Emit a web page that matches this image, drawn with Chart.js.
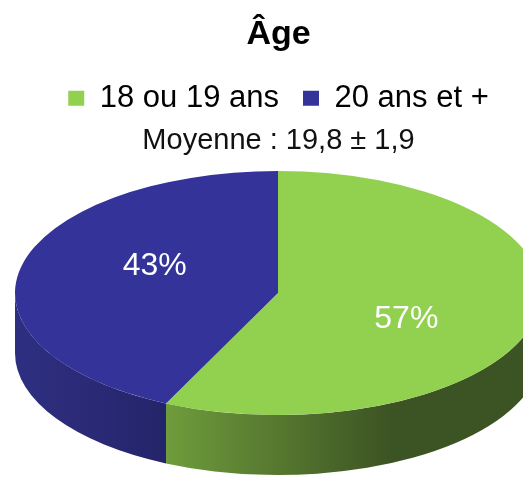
<!DOCTYPE html>
<html lang="fr">
<head>
<meta charset="utf-8">
<title>Âge</title>
<script src="https://cdn.jsdelivr.net/npm/chart.js@4.4.1/dist/chart.umd.min.js"></script>
<style>
  html, body { margin: 0; padding: 0; background: #fff; }
  #wrap { width: 523px; height: 477px; position: relative; }
</style>
</head>
<body>
<div id="wrap"><canvas id="ageChart"></canvas></div>
<script>
// ==== DONNEES ====
const categories = ["18 ou 19 ans", "20 ans et +"];
const percentages = [57, 43];
const titleText = "Âge";
const subtitleText = "Moyenne : 19,8 ± 1,9";

// couleurs (dessus / côté)
const topColors = ["#92d050", "#333399"];
const sideColors = [["#6f9c3c", "#3c5323"], ["#2f2f82", "#24246a"]];

// géométrie du disque "3D"
const CX = 278, CY = 293, RX = 263, RY = 122, DEPTH = 60;
const FONT = "'Liberation Sans', Arial, sans-serif";

// dessine les parois + aplatit le camembert
const pie3d = {
  id: "pie3d",
  beforeDatasetsDraw(chart) {
    const ctx = chart.ctx;
    const arcs = chart.getDatasetMeta(0).data;
    if (!arcs.length) return;

    arcs.forEach((arc, i) => {
      const a0 = Math.max(arc.startAngle, 0);
      const a1 = Math.min(arc.endAngle, Math.PI);
      if (a1 <= a0) return;
      const x0 = CX + RX * Math.cos(a1);
      const x1 = CX + RX * Math.cos(a0);
      const grad = ctx.createLinearGradient(x0, 0, Math.max(x1, x0 + 1), 0);
      grad.addColorStop(0, sideColors[i][0]);
      grad.addColorStop(i === 0 ? 0.6 : 1, sideColors[i][1]);
      grad.addColorStop(1, sideColors[i][1]);
      ctx.save();
      ctx.beginPath();
      ctx.ellipse(CX, CY, RX, RY, 0, a0, a1);
      ctx.ellipse(CX, CY + DEPTH, RX, RY, 0, a1, a0, true);
      ctx.closePath();
      ctx.fillStyle = grad;
      ctx.fill();
      ctx.restore();
    });

    const r = arcs[0].outerRadius;
    ctx.save();
    ctx.translate(CX, CY);
    ctx.scale(RX / r, RY / r);
    ctx.translate(-arcs[0].x, -arcs[0].y);
  },
  afterDatasetsDraw(chart) {
    const ctx = chart.ctx;
    const arcs = chart.getDatasetMeta(0).data;
    if (!arcs.length) return;
    ctx.restore();

    // étiquettes de pourcentage
    ctx.save();
    ctx.fillStyle = "#ffffff";
    ctx.font = "32px " + FONT;
    ctx.textAlign = "center";
    ctx.textBaseline = "middle";
    arcs.forEach((arc, i) => {
      const mid = (arc.startAngle + arc.endAngle) / 2;
      const lx = CX + Math.cos(mid) * RX * 0.5 + (i === 1 ? 5 : 0);
      const ly = CY + Math.sin(mid) * RY;
      ctx.fillText(percentages[i] + "%", lx, ly);
    });
    ctx.restore();
  }
};

new Chart(document.getElementById("ageChart"), {
  type: "pie",
  data: {
    labels: categories,
    datasets: [{
      data: percentages,
      backgroundColor: topColors,
      borderWidth: 0,
      clip: false
    }]
  },
  options: {
    responsive: true,
    maintainAspectRatio: false,
    animation: false,
    events: [],
    layout: { padding: { left: 34, top: 0, right: 0, bottom: 0 } },
    plugins: {
      tooltip: { enabled: false },
      title: {
        display: true,
        text: titleText,
        color: "#000",
        font: { family: FONT, size: 34, weight: "bold" },
        padding: { top: 14, bottom: 4 }
      },
      legend: {
        position: "top",
        labels: {
          color: "#000",
          font: { family: FONT, size: 31 },
          boxWidth: 16,
          boxHeight: 15,
          padding: 24
        }
      },
      subtitle: {
        display: true,
        text: subtitleText,
        weight: 900,
        color: "#111",
        font: { family: FONT, size: 29 },
        padding: { top: 0, bottom: 10 }
      }
    }
  },
  plugins: [pie3d]
});
</script>
</body>
</html>
